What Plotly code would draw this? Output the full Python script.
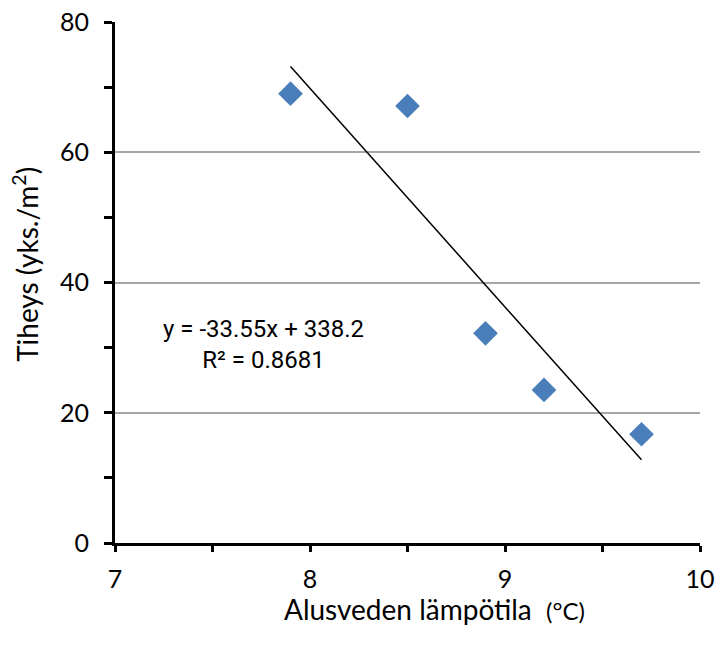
import numpy as np
import plotly.graph_objects as go

temps = [7.9, 8.5, 8.9, 9.2, 9.7]
density = [69.0, 67.1, 32.2, 23.5, 16.7]
slope = -33.55
intercept = 338.2
r2 = 0.8681

FONT = "Lato, 'Open Sans', sans-serif"

trend_x = np.array([min(temps), max(temps)])
trend_y = slope * trend_x + intercept

fig = go.Figure()
fig.add_trace(go.Scatter(
    x=trend_x, y=trend_y, mode="lines",
    line=dict(color="black", width=1.5), showlegend=False, hoverinfo="skip"))
fig.add_trace(go.Scatter(
    x=temps, y=density, mode="markers",
    marker=dict(symbol="diamond", size=19, color="#4a7ebb", line=dict(width=0)),
    showlegend=False))

fig.add_annotation(
    x=7.76, y=30.5, xref="x", yref="y",
    text=f"y = {slope}x + {intercept}<br>R² = {r2}",
    showarrow=False, align="center",
    font=dict(family="Roboto, sans-serif", size=24, color="black"))

# axis titles
fig.add_annotation(
    x=0.547, y=-0.126, xref="paper", yref="paper",
    text="Alusveden lämpötila  <span style='font-size:24px'>(°C)</span>",
    showarrow=False, xanchor="center", yanchor="middle",
    font=dict(family=FONT, size=28, color="black"))
fig.add_annotation(
    x=-0.152, y=0.534, xref="paper", yref="paper", textangle=-90,
    text="Tiheys (yks./m<sup>2</sup>)",
    showarrow=False, xanchor="center", yanchor="middle",
    font=dict(family=FONT, size=28, color="black"))

fig.update_layout(
    width=717, height=646,
    margin=dict(l=115, r=17, t=22, b=103),
    paper_bgcolor="white", plot_bgcolor="white",
    font=dict(family=FONT, color="black"),
    xaxis=dict(
        range=[7, 10], dtick=1, tick0=7, automargin=False,
        showline=True, linecolor="black", linewidth=3,
        ticks="outside", ticklen=6, tickwidth=3, tickcolor="black",
        minor=dict(dtick=0.5, ticks="outside", ticklen=6, tickwidth=3, tickcolor="black"),
        showgrid=False, zeroline=False,
        tickfont=dict(size=25), ticklabelstandoff=6,
    ),
    yaxis=dict(
        range=[0, 80], dtick=20, tick0=0, automargin=False,
        showline=True, linecolor="black", linewidth=3,
        ticks="outside", ticklen=8, tickwidth=3, tickcolor="black",
        minor=dict(dtick=10, ticks="outside", ticklen=8, tickwidth=3, tickcolor="black"),
        showgrid=True, gridcolor="#a6a6a6", gridwidth=1.5,
        zeroline=False,
        tickfont=dict(size=25), ticklabelstandoff=10,
    ),
)

fig.write_html("out.html")
